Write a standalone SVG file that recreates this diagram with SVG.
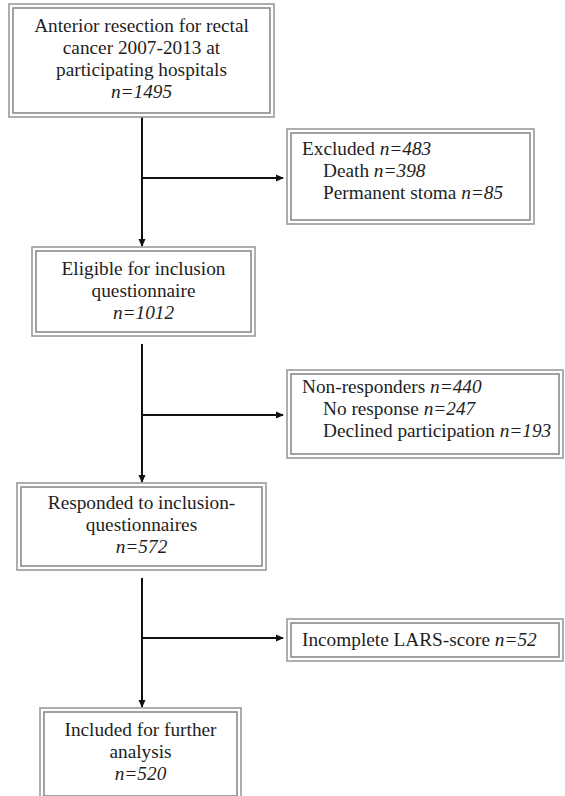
<svg xmlns="http://www.w3.org/2000/svg" width="565" height="796" viewBox="0 0 565 796">
<style>
.o{fill:none;stroke:#9a9a9a;stroke-width:1.6}
.i{fill:none;stroke:#8a8a8a;stroke-width:1.6}
text{font-family:"Liberation Serif","Times New Roman",serif;font-size:19.3px;fill:#1e1e1e}
.c{text-anchor:middle}
.n{font-style:italic}
.ln{stroke:#111;stroke-width:2;fill:none}
</style>
<defs>
<marker id="ah" markerWidth="8" markerHeight="8" refX="7" refY="4" orient="auto" markerUnits="userSpaceOnUse">
<path d="M0,0.5 L8,4 L0,7.5 Z" fill="#111"/>
</marker>
</defs>
<rect width="565" height="796" fill="#fff"/>
<g id="connectors">
<line class="ln" x1="142" y1="117" x2="142" y2="246" marker-end="url(#ah)"/>
<line class="ln" x1="142" y1="178" x2="283" y2="178" marker-end="url(#ah)"/>
<line class="ln" x1="142" y1="344" x2="142" y2="482" marker-end="url(#ah)"/>
<line class="ln" x1="142" y1="415" x2="283" y2="415" marker-end="url(#ah)"/>
<line class="ln" x1="142" y1="578" x2="142" y2="707" marker-end="url(#ah)"/>
<line class="ln" x1="142" y1="638" x2="283" y2="638" marker-end="url(#ah)"/>
</g>
<g id="n1">
<rect class="o" x="9" y="4" width="265" height="113"/>
<rect class="i" x="13" y="8" width="257" height="105"/>
<text class="c" x="141.5" y="32">Anterior resection for rectal</text>
<text class="c" x="141.5" y="54">cancer 2007-2013 at</text>
<text class="c" x="141.5" y="76">participating hospitals</text>
<text class="c n" x="141.5" y="98">n=1495</text>
</g>
<g id="n2">
<rect class="o" x="287" y="129" width="247" height="95"/>
<rect class="i" x="291" y="133" width="239" height="87"/>
<text x="302" y="155">Excluded <tspan class="n">n=483</tspan></text>
<text x="323" y="177">Death <tspan class="n">n=398</tspan></text>
<text x="323" y="199">Permanent stoma <tspan class="n">n=85</tspan></text>
</g>
<g id="n3">
<rect class="o" x="32" y="247" width="223" height="89"/>
<rect class="i" x="36" y="251" width="215" height="81"/>
<text class="c" x="143.5" y="275">Eligible for inclusion</text>
<text class="c" x="143.5" y="297">questionnaire</text>
<text class="c n" x="143.5" y="319">n=1012</text>
</g>
<g id="n4">
<rect class="o" x="287" y="370" width="276" height="88"/>
<rect class="i" x="291" y="374" width="268" height="80"/>
<text x="302" y="393">Non-responders <tspan class="n">n=440</tspan></text>
<text x="323" y="415">No response <tspan class="n">n=247</tspan></text>
<text x="323" y="437">Declined participation <tspan class="n">n=193</tspan></text>
</g>
<g id="n5">
<rect class="o" x="17" y="483" width="249" height="87"/>
<rect class="i" x="21" y="487" width="241" height="79"/>
<text class="c" x="141.5" y="509">Responded to inclusion-</text>
<text class="c" x="141.5" y="531">questionnaires</text>
<text class="c n" x="141.5" y="553">n=572</text>
</g>
<g id="n6">
<rect class="o" x="287" y="619" width="276" height="42"/>
<rect class="i" x="291" y="623" width="268" height="34"/>
<text x="302" y="646">Incomplete LARS-score <tspan class="n">n=52</tspan></text>
</g>
<g id="n7">
<rect class="o" x="40" y="708" width="201" height="92"/>
<rect class="i" x="44" y="712" width="193" height="84"/>
<text class="c" x="140.5" y="736">Included for further</text>
<text class="c" x="140.5" y="758">analysis</text>
<text class="c n" x="140.5" y="780">n=520</text>
</g>
</svg>
